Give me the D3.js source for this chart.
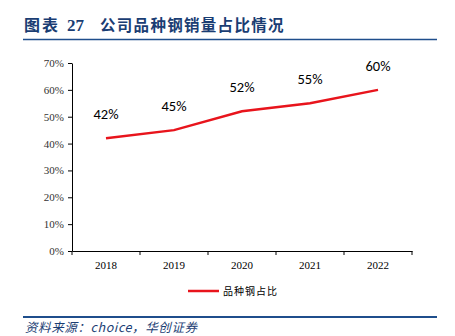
<!DOCTYPE html>
<html><head><meta charset="utf-8">
<script src="https://cdn.jsdelivr.net/npm/d3@7"></script>
<style>body{margin:0;background:#fff}svg{display:block}</style>
</head><body>
<svg id="c" width="455" height="336"></svg>
<script>
const categories = ["2018","2019","2020","2021","2022"];
const values = [42, 45, 52, 55, 60];
const yTicks = [0,10,20,30,40,50,60,70];
const seriesName = "品种钢占比";
const titleLabel = "图表";
const titleNum = "27";
const titleText = "公司品种钢销量占比情况";
const source = "资料来源：choice，华创证券";

const svg = d3.select("#c");
const blue = "#1f4e8c";
const red = "#e8141c";
const tc = "#1a3d73";

const tg = svg.append("g").attr("fill",tc).attr("font-weight","bold");
tg.append("text").attr("x",24).attr("y",31).attr("font-family","'Noto Sans CJK SC', serif").attr("font-size",16).attr("letter-spacing",2).text(titleLabel);
tg.append("text").attr("x",67).attr("y",31).attr("font-family","'Liberation Serif', serif").attr("font-size",17).text(titleNum);
tg.append("text").attr("x",100).attr("y",31).attr("font-family","'Noto Sans CJK SC', serif").attr("font-size",15.5).attr("letter-spacing",1.3).text(titleText);

svg.append("line").attr("x1",23).attr("x2",437).attr("y1",39.5).attr("y2",39.5).attr("stroke",blue).attr("stroke-width",1.5);
svg.append("line").attr("x1",23).attr("x2",437).attr("y1",317).attr("y2",317).attr("stroke",blue).attr("stroke-width",2);
svg.append("text").attr("x",25).attr("y",332).attr("fill",tc)
  .attr("font-family","'Noto Sans CJK SC', serif").attr("font-style","italic").attr("font-size",12.5).attr("letter-spacing",0.6)
  .text(source);

const x = d3.scaleBand().domain(categories).range([72,412]);
const y = d3.scaleLinear().domain([0,70]).range([251,63]);

const yAxis = svg.append("g").attr("transform","translate(72,0)")
  .call(d3.axisLeft(y).tickValues(yTicks).tickFormat(d=>d+"%").tickSize(4).tickSizeOuter(0));
yAxis.select(".domain").attr("stroke","#000");
yAxis.selectAll("line").attr("stroke","#000");
yAxis.selectAll("text").attr("font-family","'Liberation Serif', serif").attr("font-size",11).attr("fill","#333").attr("dx",-1);

const xAxis = svg.append("g").attr("transform","translate(0,251)")
  .call(d3.axisBottom(x).tickValues([]).tickSizeOuter(0));
xAxis.select(".domain").attr("stroke","#000");
const bounds = categories.map(c=>x(c)).concat([412]);
xAxis.selectAll(".tk").data(bounds).enter().append("line").attr("class","tk")
  .attr("x1",d=>d).attr("x2",d=>d).attr("y1",0).attr("y2",4).attr("stroke","#000");
xAxis.selectAll(".lb").data(categories).enter().append("text").attr("class","lb")
  .attr("x",d=>x(d)+x.bandwidth()/2).attr("y",18).attr("text-anchor","middle")
  .attr("font-family","'Liberation Serif', serif").attr("font-size",11).attr("fill","#000").text(d=>d);

const line = d3.line().x((d,i)=>x(categories[i])+x.bandwidth()/2).y(d=>y(d));
svg.append("path").datum(values).attr("d",line).attr("fill","none").attr("stroke",red).attr("stroke-width",2.5);

svg.selectAll(".vl").data(values).enter().append("text").attr("class","vl")
  .attr("x",(d,i)=>x(categories[i])+x.bandwidth()/2).attr("y",d=>y(d)-19)
  .attr("text-anchor","middle").attr("font-family","Carlito, 'Open Sans', sans-serif").attr("font-size",14.5).attr("fill","#000")
  .text(d=>d+"%");

svg.append("line").attr("x1",188).attr("x2",219).attr("y1",291).attr("y2",291).attr("stroke",red).attr("stroke-width",2.5);
svg.append("text").attr("x",223).attr("y",295).attr("font-family","'Noto Sans CJK SC', sans-serif").attr("font-size",10).attr("letter-spacing",1).attr("fill","#000").text(seriesName);
</script>
</body></html>
